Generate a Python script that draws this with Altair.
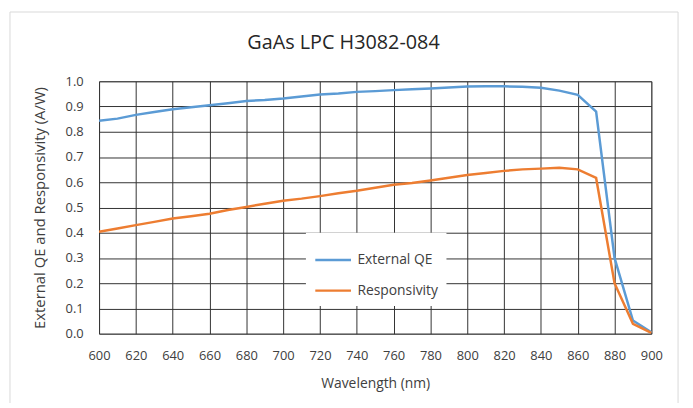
import altair as alt
import pandas as pd

title_text = "GaAs LPC H3082-084"
wavelength = [600, 610, 620, 630, 640, 650, 660, 670, 680, 690, 700, 710, 720, 730, 740, 750,
              760, 770, 780, 790, 800, 810, 820, 830, 840, 850, 860, 870, 880, 890, 900]
external_qe = [0.844, 0.852, 0.867, 0.878, 0.889, 0.897, 0.905, 0.913, 0.922, 0.926, 0.932,
               0.940, 0.948, 0.952, 0.958, 0.961, 0.965, 0.968, 0.971, 0.975, 0.979, 0.980,
               0.980, 0.978, 0.974, 0.963, 0.946, 0.880, 0.300, 0.052, 0.005]
responsivity = [0.404, 0.417, 0.430, 0.443, 0.456, 0.465, 0.475, 0.490, 0.502, 0.515, 0.527,
                0.535, 0.545, 0.556, 0.566, 0.578, 0.590, 0.597, 0.607, 0.618, 0.629, 0.637,
                0.645, 0.651, 0.654, 0.657, 0.651, 0.617, 0.200, 0.039, 0.003]
series_names = ["External QE", "Responsivity"]
series_colors = ["#5B9BD5", "#ED7D31"]
x_ticks = list(range(600, 901, 20))
y_ticks = [round(i * 0.1, 1) for i in range(11)]

rows = []
for w, q, r in zip(wavelength, external_qe, responsivity):
    rows.append({"wl": w, "value": q, "series": series_names[0]})
    rows.append({"wl": w, "value": r, "series": series_names[1]})
df = pd.DataFrame(rows)

FONT = "Open Sans"

lines = alt.Chart(df).mark_line(strokeWidth=2.5).encode(
    x=alt.X("wl:Q", scale=alt.Scale(domain=[600, 900], nice=False),
            axis=alt.Axis(values=x_ticks, title="Wavelength (nm)", grid=True,
                          gridColor="#333333", gridWidth=1, ticks=False, domain=False,
                          labelPadding=16, titlePadding=14, labelFlush=False)),
    y=alt.Y("value:Q", scale=alt.Scale(domain=[0, 1.0], nice=False),
            axis=alt.Axis(values=y_ticks, format=".1f", title="External QE and Responsivity (A/W)",
                          grid=True, gridColor="#333333", gridWidth=1, ticks=False, domain=False,
                          labelPadding=16, titlePadding=18, labelFlush=False, titleFontSize=15)),
    color=alt.Color("series:N", scale=alt.Scale(domain=series_names, range=series_colors),
                    legend=alt.Legend(title=None, orient="none", legendX=209, legendY=153,
                                      fillColor="white", padding=8, symbolType="stroke",
                                      symbolSize=1300, symbolStrokeWidth=2.5,
                                      labelFontSize=14, labelColor="#404040", labelFont=FONT,
                                      rowPadding=4, labelOffset=5)),
)

frame = alt.Chart(pd.DataFrame({"f": [0]})).mark_rect(
    fill=None, stroke="#d9d9d9", strokeWidth=1
).encode(x=alt.value(-90), x2=alt.value(585), y=alt.value(-70), y2=alt.value(340))

title = alt.Chart(pd.DataFrame({"t": [title_text]})).mark_text(
    font=FONT, fontSize=20, color="#262626", align="center", baseline="middle"
).encode(text="t:N", x=alt.value(247), y=alt.value(-39))

chart = alt.layer(frame, lines, title).properties(
    width=558, height=255,
    autosize=alt.AutoSizeParams(type="none"),
    padding={"left": 92, "top": 72, "right": 34, "bottom": 68},
).configure_view(stroke="#808080", strokeWidth=1).configure_axis(
    labelFont=FONT, titleFont=FONT, labelFontSize=13, titleFontSize=14,
    labelColor="#404040", titleColor="#404040", titleFontWeight="normal"
)

chart.save("out.html", embed_options={"renderer": "svg", "actions": False})
